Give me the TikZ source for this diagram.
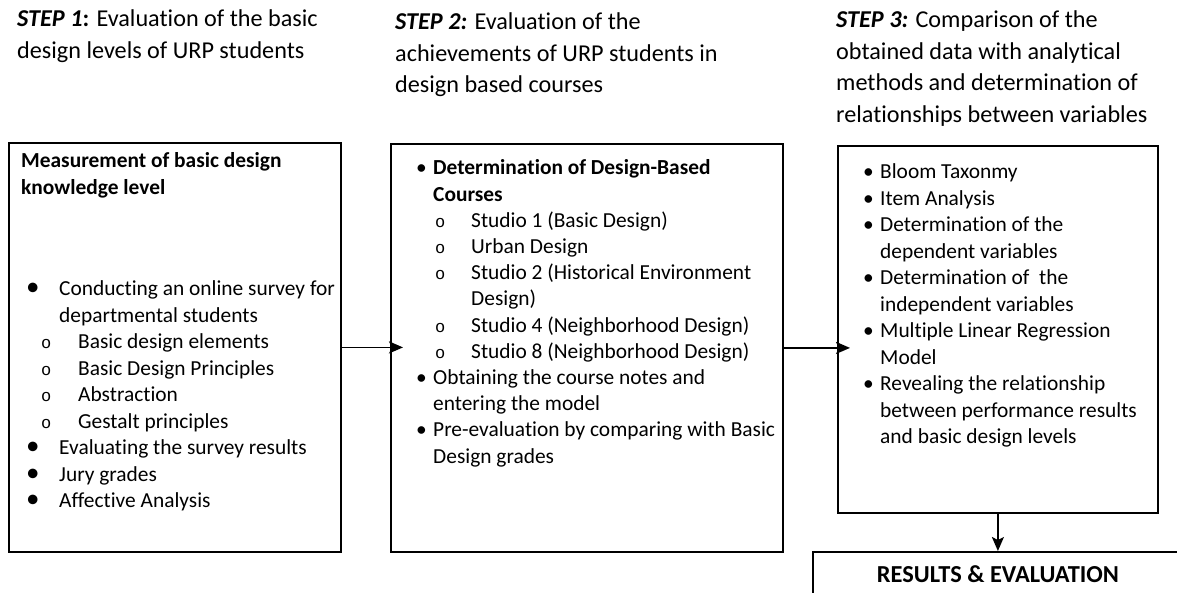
\documentclass[tikz,border=0pt]{standalone}
\usepackage{fontspec}
\setmainfont{Carlito}[Ligatures=NoCommon]
\newfontfamily\circfont{Liberation Mono}
\usetikzlibrary{positioning,arrows.meta}

% one line of a list: marker at #1, text (and wrapped lines) at #2
\newcommand\listentry[4]{\par\noindent\hangindent=#2\hangafter=1
  \hspace*{#1}\makebox[\dimexpr#2-#1\relax][l]{#3}\strut#4\par}
\newcommand\linebrk{\hfil\break}
\newcommand\dotmark{\textbullet}
\newcommand\bigdot{{\fontsize{27}{27}\selectfont\textbullet}}
\newcommand\ringmark{{\circfont\fontsize{17}{17}\selectfont o}}

\tikzset{
  stage/.style={draw, line width=1.8pt, inner sep=0pt, anchor=north west},
  steptext/.style={inner sep=0pt, text width=#1, align=flush left,
    font=\fontsize{24.2}{31.7}\selectfont},
  listtext/.style={inner sep=0pt, text width=#1, align=flush left,
    font=\fontsize{21.4}{26.5}\selectfont},
  flow/.style={line width=1.8pt, -{Stealth[length=14pt,width=12pt,inset=3pt]}},
}

\begin{document}
\begin{tikzpicture}[x=1pt,y=-1pt]
  \path[use as bounding box, clip] (0,0) rectangle (1177,592);

  % the three stages
  \node[stage, minimum width=332pt, minimum height=409pt] (b1) at (8,142) {};
  \node[stage, minimum width=392pt, minimum height=408pt] (b2) at (390,143) {};
  \node[stage, minimum width=320pt, minimum height=367pt] (b3) at (837,145) {};

  \node[steptext=340pt, anchor=north west] (h1) at (17,4.5)
    {\strut\textbf{\textit{STEP 1}:} Evaluation of the basic\\design levels of URP students};
  \node[steptext=360pt, anchor=north west] (h2) at (395,7)
    {\strut\textbf{\textit{STEP 2:}} Evaluation of the\\achievements of URP students in\\design based courses};
  \node[steptext=340pt, anchor=north west] (h3) at (836,5)
    {\strut\textbf{\textit{STEP 3:}} Comparison of the\\obtained data with analytical\\methods and determination of\\relationships between variables};

  \node[listtext=318pt, below right=7pt and 13pt of b1.north west] (t1) {%
    \strut\textbf{Measurement of basic design\\knowledge level}\par
    \vspace*{75pt}
    \listentry{5pt}{38pt}{\bigdot}{Conducting an online survey for\linebrk departmental students}
    \listentry{20pt}{57pt}{\ringmark}{Basic design elements}
    \listentry{20pt}{57pt}{\ringmark}{Basic Design Principles}
    \listentry{20pt}{57pt}{\ringmark}{Abstraction}
    \listentry{20pt}{57pt}{\ringmark}{Gestalt principles}
    \listentry{5pt}{38pt}{\bigdot}{Evaluating the survey results}
    \listentry{5pt}{38pt}{\bigdot}{Jury grades}
    \listentry{5pt}{38pt}{\bigdot}{Affective Analysis}};

  \node[listtext=378pt, font=\fontsize{21.4}{26.2}\selectfont,
    below right=5.5pt and 13pt of b2.north west] (t2) {%
    \listentry{13pt}{30pt}{\dotmark}{\textbf{Determination of Design-Based\linebrk Courses}}
    \listentry{32pt}{68pt}{\ringmark}{Studio 1 (Basic Design)}
    \listentry{32pt}{68pt}{\ringmark}{Urban Design}
    \listentry{32pt}{68pt}{\ringmark}{Studio 2 (Historical Environment\linebrk Design)}
    \listentry{32pt}{68pt}{\ringmark}{Studio 4 (Neighborhood Design)}
    \listentry{32pt}{68pt}{\ringmark}{Studio 8 (Neighborhood Design)}
    \listentry{13pt}{30pt}{\dotmark}{Obtaining the course notes and\linebrk entering the model}
    \listentry{13pt}{30pt}{\dotmark}{Pre-evaluation by comparing with Basic\linebrk Design grades}};

  \node[listtext=310pt, below right=7pt and 13pt of b3.north west] (t3) {%
    \listentry{13pt}{30pt}{\dotmark}{Bloom Taxonmy}
    \listentry{13pt}{30pt}{\dotmark}{Item Analysis}
    \listentry{13pt}{30pt}{\dotmark}{Determination of the\linebrk dependent variables}
    \listentry{13pt}{30pt}{\dotmark}{Determination of~ the\linebrk independent variables}
    \listentry{13pt}{30pt}{\dotmark}{Multiple Linear Regression\linebrk Model}
    \listentry{13pt}{30pt}{\dotmark}{Revealing the relationship\linebrk between performance results\linebrk and basic design levels}};

  % outcome, runs off the page edge
  \node[stage, minimum width=370pt, text height=30.7pt, text depth=30pt,
    font=\fontsize{24.4}{30}\selectfont\bfseries] (res) at (812,551)
    {RESULTS \& EVALUATION};

  \draw[flow, shorten >=-13pt] (b1) -- (b1 -| b2.west);
  \draw[flow, shorten >=-13pt] (b2) -- (b2 -| b3.west);
  \draw[flow] (b3) -- (res);
\end{tikzpicture}
\end{document}
